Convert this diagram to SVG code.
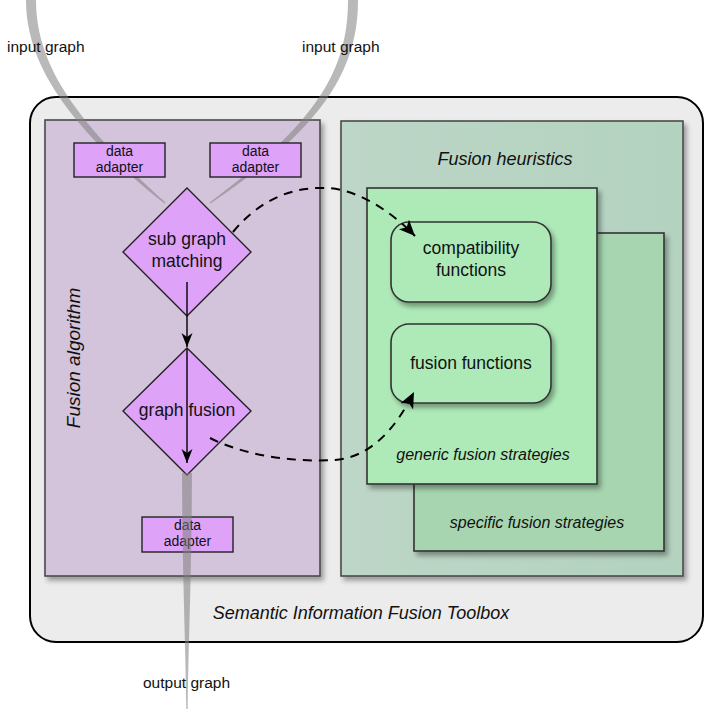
<svg xmlns="http://www.w3.org/2000/svg" width="704" height="709" viewBox="0 0 704 709">
  <style>
    text { font-family: "Liberation Sans", Arial, sans-serif; fill: #111; }
    .lbl { font-size: 17.5px; text-anchor: middle; }
    .small { font-size: 14px; text-anchor: middle; }
    .io { font-size: 15.5px; }
    .title { font-size: 18px; font-style: italic; text-anchor: middle; }
    .strat { font-size: 16px; font-style: italic; text-anchor: middle; }
    .panel { stroke: #4a4a4a; stroke-width: 1.6; }
    .card { stroke: #333; stroke-width: 1.6; }
    .violet { fill: #dea3f8; stroke: #222; stroke-width: 1.4; }
    .band { fill: #808080; opacity: 0.55; }
    .flow { stroke: #000; stroke-width: 1.4; fill: none; }
    .dash { stroke: #000; stroke-width: 2; fill: none; stroke-dasharray: 9 7; }
  </style>
  <defs>
    <filter id="shadow" x="-10%" y="-10%" width="130%" height="130%">
      <feDropShadow dx="3" dy="4" stdDeviation="2.5" flood-color="#000" flood-opacity="0.35"/>
    </filter>
    <linearGradient id="greenPanel" x1="0" y1="0" x2="1" y2="0">
      <stop offset="0" stop-color="#bdd6c7"/>
      <stop offset="1" stop-color="#b3d2bf"/>
    </linearGradient>
    <marker id="head" markerUnits="userSpaceOnUse" markerWidth="16" markerHeight="14" refX="14" refY="6" orient="auto">
      <path d="M0,0.5 L14,6 L0,11.5 L4,6 Z" fill="#000"/>
    </marker>
    <marker id="headLarge" markerUnits="userSpaceOnUse" markerWidth="18" markerHeight="16" refX="16" refY="7" orient="auto">
      <path d="M0,0 L16,7 L0,14 L4,7 Z" fill="#000"/>
    </marker>
  </defs>

  <!-- toolbox frame -->
  <g id="toolbox">
    <rect x="30" y="97" width="673" height="545" rx="26" fill="#ececec" stroke="#000" stroke-width="2"/>
    <text class="title" x="361" y="619">Semantic Information Fusion Toolbox</text>
  </g>

  <!-- fusion algorithm panel -->
  <g id="fusion-algorithm">
    <rect class="panel" x="45" y="120" width="275" height="456" fill="#d3c4db" filter="url(#shadow)"/>
    <text class="title" transform="translate(80,358) rotate(-90)" style="font-size:19px">Fusion algorithm</text>
  </g>

  <!-- fusion heuristics panel -->
  <g id="fusion-heuristics">
    <rect class="panel" x="341" y="121" width="342" height="455" fill="url(#greenPanel)" filter="url(#shadow)"/>
    <text class="title" x="505" y="165">Fusion heuristics</text>
  </g>

  <g id="specific-strategies">
    <rect class="card" x="414" y="233" width="250" height="318" fill="#a6d5b0" filter="url(#shadow)"/>
    <text class="strat" x="537" y="528">specific fusion strategies</text>
  </g>

  <g id="generic-strategies">
    <rect class="card" x="367" y="188" width="230" height="296" fill="#aeeab8" filter="url(#shadow)"/>
    <text class="strat" x="483" y="460">generic fusion strategies</text>
  </g>

  <g id="compatibility-functions">
    <rect class="card" x="391" y="222" width="160" height="80" rx="18" fill="#aeeab8" filter="url(#shadow)"/>
    <text class="lbl" x="471" y="254">compatibility</text>
    <text class="lbl" x="471" y="276">functions</text>
  </g>

  <g id="fusion-functions">
    <rect class="card" x="391" y="324" width="160" height="79" rx="18" fill="#aeeab8" filter="url(#shadow)"/>
    <text class="lbl" x="471" y="369">fusion functions</text>
  </g>

  <!-- incoming graph streams -->
  <g id="input-streams">
    <path class="band" d="M26,-4 L26,0 C26,70 77,133 164.5,203.6 L165.5,202.4 C83,127 36,70 36,0 L36,-4 Z"/>
    <path class="band" d="M348,-4 L348,0 C348,70 317.3,122.1 209.6,202.4 L210.4,203.6 C322.7,127.9 358,70 358,0 L358,-4 Z"/>
    <text class="io" x="7" y="52">input graph</text>
    <text class="io" x="302" y="52">input graph</text>
  </g>

  <g id="adapter-left">
    <rect class="violet" x="74" y="143" width="91" height="34"/>
    <text class="small" x="119.5" y="156">data</text>
    <text class="small" x="119.5" y="172">adapter</text>
  </g>

  <g id="adapter-right">
    <rect class="violet" x="210" y="143" width="91" height="34"/>
    <text class="small" x="255.5" y="156">data</text>
    <text class="small" x="255.5" y="172">adapter</text>
  </g>

  <g id="adapter-bottom">
    <rect class="violet" x="142" y="517" width="91" height="35"/>
    <text class="small" x="187.5" y="530">data</text>
    <text class="small" x="187.5" y="546">adapter</text>
  </g>

  <g id="sub-graph-matching">
    <path class="violet" d="M187,188 L251,252 L187,316 L123,252 Z"/>
    <text class="lbl" x="187" y="245">sub graph</text>
    <text class="lbl" x="187" y="267">matching</text>
  </g>

  <g id="graph-fusion">
    <path class="violet" d="M187,348 L251,411 L187,475 L123,411 Z"/>
    <text class="lbl" x="187" y="416">graph fusion</text>
  </g>

  <!-- outgoing graph stream -->
  <g id="output-stream">
    <path class="band" d="M182,473 C182.5,580 185.5,640 186.3,709 L187.7,709 C188.5,640 191.5,580 192,473 Z"/>
    <text class="io" x="143" y="688">output graph</text>
  </g>

  <!-- connectors -->
  <g id="connectors">
    <path class="flow" d="M187,282 L187,347" marker-end="url(#head)"/>
    <path class="flow" d="M187,349 L187,463" marker-end="url(#head)"/>
    <path class="dash" d="M233,232 C255,205 285,188 320,188 C355,186 393,213 415,236" marker-end="url(#headLarge)"/>
    <path class="dash" d="M210,438 C250,458 300,462 335,460 C370,457 395,430 414,392" marker-end="url(#headLarge)"/>
  </g>
</svg>
